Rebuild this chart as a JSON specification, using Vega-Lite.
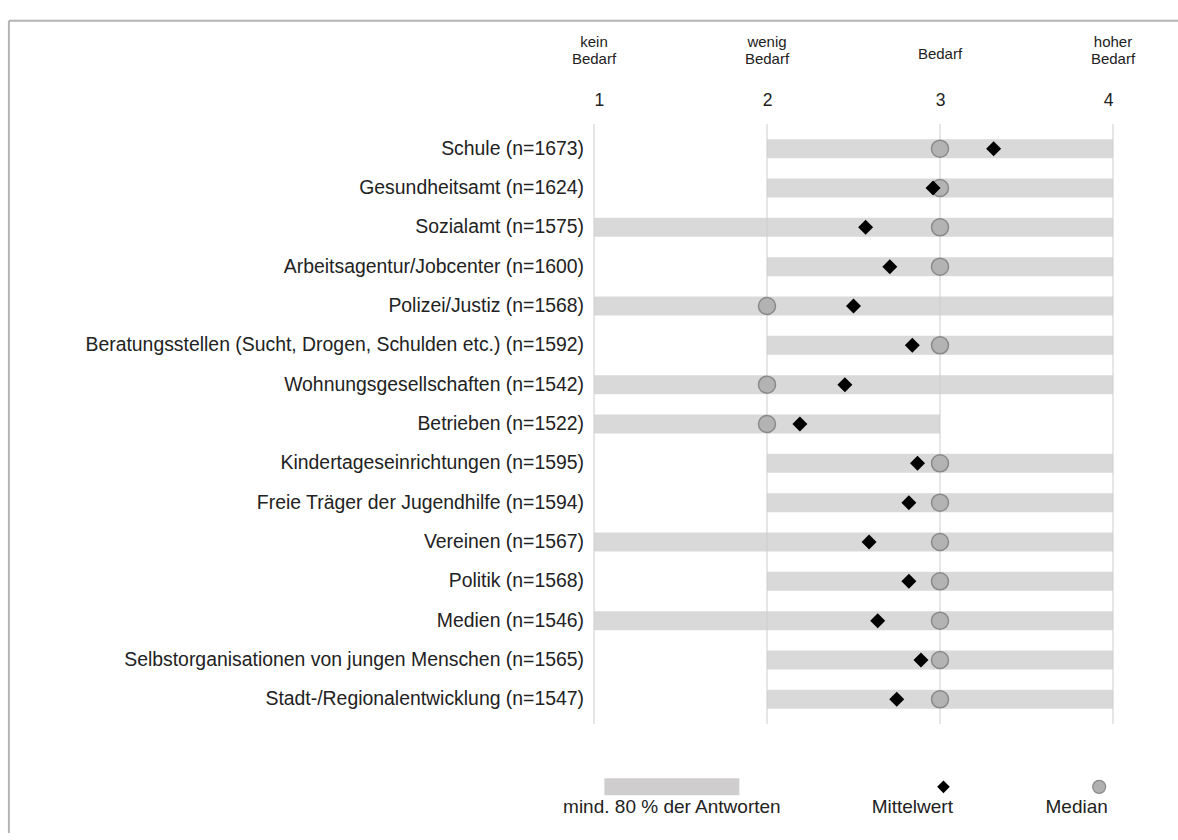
{
  "$schema": "https://vega.github.io/schema/vega-lite/v6.json",
  "autosize": {"type": "none"},
  "width": 519,
  "height": 600,
  "padding": {"left": 594, "top": 124, "right": 65, "bottom": 116},
  "background": "white",
  "config": {
    "view": {"stroke": null},
    "font": "Liberation Sans",
    "text": {"font": "Liberation Sans"}
  },
  "data": {
    "values": [
      {"rank": 1, "label": "Schule (n=1673)", "lo": 2, "hi": 4, "mean": 3.31, "median": 3},
      {"rank": 2, "label": "Gesundheitsamt (n=1624)", "lo": 2, "hi": 4, "mean": 2.96, "median": 3},
      {"rank": 3, "label": "Sozialamt (n=1575)", "lo": 1, "hi": 4, "mean": 2.57, "median": 3},
      {"rank": 4, "label": "Arbeitsagentur/Jobcenter (n=1600)", "lo": 2, "hi": 4, "mean": 2.71, "median": 3},
      {"rank": 5, "label": "Polizei/Justiz (n=1568)", "lo": 1, "hi": 4, "mean": 2.5, "median": 2},
      {"rank": 6, "label": "Beratungsstellen (Sucht, Drogen, Schulden etc.) (n=1592)", "lo": 2, "hi": 4, "mean": 2.84, "median": 3},
      {"rank": 7, "label": "Wohnungsgesellschaften (n=1542)", "lo": 1, "hi": 4, "mean": 2.45, "median": 2},
      {"rank": 8, "label": "Betrieben (n=1522)", "lo": 1, "hi": 3, "mean": 2.19, "median": 2},
      {"rank": 9, "label": "Kindertageseinrichtungen (n=1595)", "lo": 2, "hi": 4, "mean": 2.87, "median": 3},
      {"rank": 10, "label": "Freie Träger der Jugendhilfe (n=1594)", "lo": 2, "hi": 4, "mean": 2.82, "median": 3},
      {"rank": 11, "label": "Vereinen (n=1567)", "lo": 1, "hi": 4, "mean": 2.59, "median": 3},
      {"rank": 12, "label": "Politik (n=1568)", "lo": 2, "hi": 4, "mean": 2.82, "median": 3},
      {"rank": 13, "label": "Medien (n=1546)", "lo": 1, "hi": 4, "mean": 2.64, "median": 3},
      {"rank": 14, "label": "Selbstorganisationen von jungen Menschen (n=1565)", "lo": 2, "hi": 4, "mean": 2.89, "median": 3},
      {"rank": 15, "label": "Stadt-/Regionalentwicklung (n=1547)", "lo": 2, "hi": 4, "mean": 2.75, "median": 3}
    ]
  },
  "layer": [
    {
      "data": {"values": [{"part": "frame"}]},
      "mark": {"type": "rule", "color": "#b4b4b4", "strokeWidth": 2},
      "encoding": {
        "x": {"datum": -2.382, "scale": {"domain": [1, 4], "nice": false, "zero": false}, "axis": {"orient": "top", "values": [1, 2, 3, 4], "format": "d", "domain": false, "ticks": false, "grid": false, "labelFontSize": 17.5, "labelPadding": 15, "labelColor": "#222222", "title": null}},
        "y": {"datum": -2.25, "scale": {"domain": [0.5, 15.5], "reverse": true, "nice": false, "zero": false}, "axis": null},
        "y2": {"datum": 18.4}
      }
    },
    {
      "data": {"values": [{"part": "frame"}]},
      "mark": {"type": "rule", "color": "#b4b4b4", "strokeWidth": 2},
      "encoding": {
        "x": {"datum": -2.382},
        "x2": {"datum": 4.376},
        "y": {"datum": -2.25}
      }
    },
    {
      "mark": {"type": "bar", "orient": "horizontal", "size": 19, "color": "#d9d9d9"},
      "encoding": {
        "x": {"field": "lo", "type": "quantitative"},
        "x2": {"field": "hi"},
        "y": {"field": "rank", "type": "quantitative"}
      }
    },
    {
      "data": {"values": [{"g": 1}, {"g": 2}, {"g": 3}, {"g": 4}]},
      "mark": {"type": "rule", "color": "#cdcdcd", "strokeWidth": 1},
      "encoding": {
        "x": {"field": "g", "type": "quantitative"}
      }
    },
    {
      "mark": {"type": "point", "shape": "circle", "filled": true, "size": 290, "fill": "#b3b3b3", "stroke": "#8a8a8a", "strokeWidth": 1.5, "opacity": 1},
      "encoding": {
        "x": {"field": "median", "type": "quantitative"},
        "y": {"field": "rank", "type": "quantitative"}
      }
    },
    {
      "mark": {"type": "point", "shape": "diamond", "filled": true, "size": 225, "color": "#000000", "opacity": 1},
      "encoding": {
        "x": {"field": "mean", "type": "quantitative"},
        "y": {"field": "rank", "type": "quantitative"}
      }
    },
    {
      "mark": {"type": "text", "align": "right", "baseline": "middle", "dx": -10, "fontSize": 19.4, "color": "#222222"},
      "encoding": {
        "x": {"datum": 1},
        "y": {"field": "rank", "type": "quantitative"},
        "text": {"field": "label"}
      }
    },
    {
      "data": {"values": [{"g": 1, "t": "kein\nBedarf"}, {"g": 2, "t": "wenig\nBedarf"}, {"g": 4, "t": "hoher\nBedarf"}]},
      "mark": {"type": "text", "align": "center", "baseline": "middle", "lineBreak": "\n", "lineHeight": 17, "fontSize": 15, "color": "#222222"},
      "encoding": {
        "x": {"field": "g", "type": "quantitative"},
        "y": {"datum": -1.7},
        "text": {"field": "t"}
      }
    },
    {
      "data": {"values": [{"g": 3, "t": "Bedarf"}]},
      "mark": {"type": "text", "align": "center", "baseline": "middle", "fontSize": 15, "color": "#222222"},
      "encoding": {
        "x": {"field": "g", "type": "quantitative"},
        "y": {"datum": -1.4},
        "text": {"field": "t"}
      }
    },
    {
      "data": {"values": [{"label": "mind. 80 % der Antworten"}]},
      "mark": {"type": "bar", "orient": "horizontal", "size": 17, "color": "#cfcdcd"},
      "encoding": {
        "x": {"datum": 1.06},
        "x2": {"datum": 1.84},
        "y": {"datum": 17.225}
      }
    },
    {
      "data": {"values": [{"label": "Mittelwert"}]},
      "mark": {"type": "point", "shape": "diamond", "filled": true, "size": 160, "color": "#000000", "opacity": 1},
      "encoding": {
        "x": {"datum": 3.02},
        "y": {"datum": 17.225}
      }
    },
    {
      "data": {"values": [{"label": "Median"}]},
      "mark": {"type": "point", "shape": "circle", "filled": true, "size": 170, "fill": "#b0b0b0", "stroke": "#8a8a8a", "strokeWidth": 1.2, "opacity": 1},
      "encoding": {
        "x": {"datum": 3.92},
        "y": {"datum": 17.225}
      }
    },
    {
      "data": {"values": [{"label": "mind. 80 % der Antworten", "pos": 1.45}, {"label": "Mittelwert", "pos": 2.84}, {"label": "Median", "pos": 3.79}]},
      "mark": {"type": "text", "align": "center", "baseline": "middle", "fontSize": 19, "color": "#222222"},
      "encoding": {
        "x": {"field": "pos", "type": "quantitative"},
        "y": {"datum": 17.725},
        "text": {"field": "label"}
      }
    }
  ]
}
